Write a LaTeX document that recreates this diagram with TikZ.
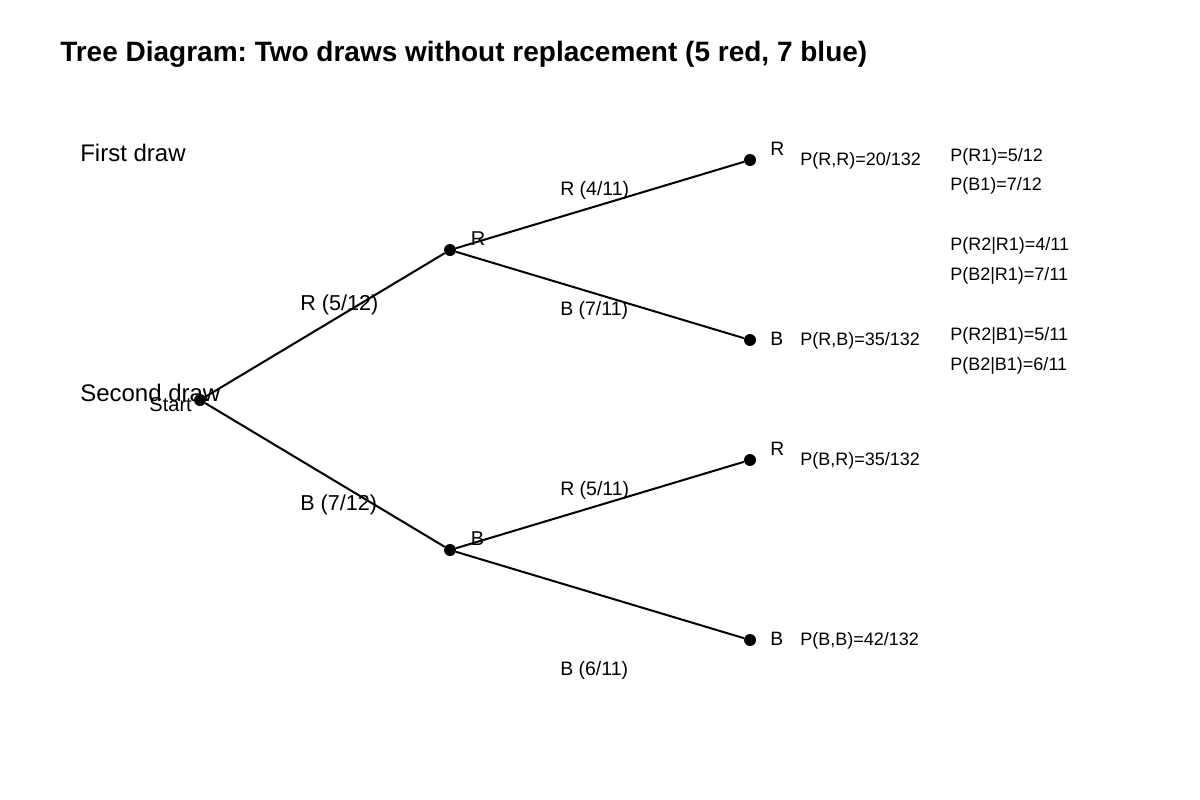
\documentclass[tikz,border=0pt]{standalone}
\usepackage{fontspec}
\setmainfont{Liberation Sans}
\frenchspacing
\begin{document}
\begin{tikzpicture}[x=0.75pt,y=-0.75pt,
  dot/.style={circle,fill=black,inner sep=0pt,minimum size=9pt},
  edge/.style={line width=1.5pt,black},
  lbl/.style={anchor=base west,inner sep=0pt},
  ttl/.style={lbl,font=\fontsize{21pt}{25pt}\selectfont\bfseries},
  big/.style={lbl,font=\fontsize{18pt}{22pt}\selectfont},
  one/.style={lbl,font=\fontsize{16.2pt}{19pt}\selectfont},
  two/.style={lbl,font=\fontsize{14.6pt}{17pt}\selectfont},
  nlab/.style={lbl,font=\fontsize{15pt}{18pt}\selectfont},
  leaf/.style={lbl,font=\fontsize{14.5pt}{17pt}\selectfont},
  prob/.style={lbl,font=\fontsize{13.5pt}{16pt}\selectfont}]
\useasboundingbox (0,0) rectangle (1200,800);
\fill[white] (0,0) rectangle (1200,800);
% title
\node[ttl] (title) at (60,61) {Tree Diagram: Two draws without replacement (5 red, 7 blue)};
% level names
\node[big] (first) at (80,161) {First draw};
\node[big] (second) at (80,401) {Second draw};
% dots
\node[dot] (s) at (200,400) {};
\node[dot] (r1) at (450,250) {};
\node[dot] (b1) at (450,550) {};
\node[dot] (rr) at (750,160) {};
\node[dot] (rb) at (750,340) {};
\node[dot] (br) at (750,460) {};
\node[dot] (bb) at (750,640) {};
% edges
\draw[edge] (s) -- (r1);
\draw[edge] (s) -- (b1);
\draw[edge] (r1) -- (rr);
\draw[edge] (r1) -- (rb);
\draw[edge] (b1) -- (br);
\draw[edge] (b1) -- (bb);
% node labels
\node[nlab,anchor=base east] (startlbl) at (192,411.5) {Start};
\node[nlab] (r1lbl) at (470.5,245) {R};
\node[nlab] (b1lbl) at (470.5,545) {B};
\node[leaf] (rrlbl) at (770,155) {R};
\node[leaf] (rblbl) at (770,345) {B};
\node[leaf] (brlbl) at (770,455) {R};
\node[leaf] (bblbl) at (770,645) {B};
% edge labels
\node[one] (e1) at (300,310) {R (5/12)};
\node[one] (e2) at (300,510) {B (7/12)};
\node[two] (e3) at (560,195.5) {R (4/11)};
\node[two] (e4) at (560,315.5) {B (7/11)};
\node[two] (e5) at (560,495) {R (5/11)};
\node[two] (e6) at (560,675.5) {B (6/11)};
% joint probabilities
\node[prob] (p1) at (800,165.5) {P(R,R)=20/132};
\node[prob] (p2) at (800,345.5) {P(R,B)=35/132};
\node[prob] (p3) at (800,465.5) {P(B,R)=35/132};
\node[prob] (p4) at (800,645.5) {P(B,B)=42/132};
% summary column
\node[prob] (q1) at (950,161) {P(R1)=5/12};
\node[prob] (q2) at (950,190.7) {P(B1)=7/12};
\node[prob] (q3) at (950,250.7) {P(R2|R1)=4/11};
\node[prob] (q4) at (950,280.7) {P(B2|R1)=7/11};
\node[prob] (q5) at (950,340.7) {P(R2|B1)=5/11};
\node[prob] (q6) at (950,370.7) {P(B2|B1)=6/11};
\end{tikzpicture}
\end{document}
